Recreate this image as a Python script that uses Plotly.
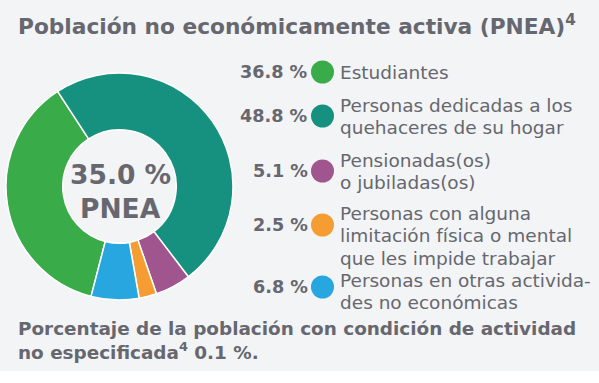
import plotly.graph_objects as go

# ---- data ----
categories = [
    "Estudiantes",
    "Personas dedicadas a los<br>quehaceres de su hogar",
    "Pensionadas(os)<br>o jubiladas(os)",
    "Personas con alguna<br>limitación física o mental<br>que les impide trabajar",
    "Personas en otras activida-<br>des no económicas",
]
values = [36.8, 48.8, 5.1, 2.5, 6.8]
value_labels = ["36.8 %", "48.8 %", "5.1 %", "2.5 %", "6.8 %"]
colors = ["#39ab49", "#17917f", "#a1558f", "#f59d33", "#27a6df"]
center_lines = ["35.0 %", "PNEA"]
title_text = "Población no económicamente activa (PNEA)<sup>4</sup>"
footnote_lines = ["Porcentaje de la población con condición de actividad",
                  "no especificada<sup>4</sup> 0.1 %."]

# ---- layout helpers ----
W, H = 599, 383
TXT = "#66676f"
BG = "#f3f4f6"
FONT = "DejaVu Sans"
row_y = [72, 116, 171, 225, 287]          # dot / value centres (px from top)
label_first = [72, 105, 160, 213, 280]    # centre of first label line
LINE = 22.5

fig = go.Figure()

fig.add_trace(go.Pie(
    values=values,
    labels=[c.replace("<br>", " ") for c in categories],
    marker=dict(colors=colors, line=dict(color="white", width=1.5)),
    hole=0.5,
    sort=False,
    direction="clockwise",
    rotation=194.5,
    textinfo="none",
    hoverinfo="label+value",
    showlegend=False,
    domain=dict(x=[6 / W, 233 / W], y=[(H - 300) / H, (H - 73) / H]),
))

# legend dots
fig.add_trace(go.Scatter(
    x=[322.5] * len(values), y=row_y, mode="markers",
    marker=dict(size=23, color=colors),
    hoverinfo="skip", showlegend=False,
))

ann = []
cx = (6 + 233) / 2 + 1
for j, t in enumerate(center_lines):
    ann.append(dict(x=cx, y=174 + 34 * j, xref="x", yref="y", text=t,
                    showarrow=False, xanchor="center", yanchor="middle",
                    font=dict(family=FONT, size=26.5, color=TXT, weight="bold")))
ann.append(dict(x=W / 2 - 3, y=25, xref="x", yref="y", text=title_text,
                showarrow=False, xanchor="center", yanchor="middle",
                font=dict(family=FONT, size=21.7, color=TXT, weight="bold")))
for i in range(len(values)):
    ann.append(dict(x=310, y=row_y[i], xref="x", yref="y", text=value_labels[i],
                    showarrow=False, xanchor="right", yanchor="middle",
                    font=dict(family=FONT, size=17.6, color=TXT, weight="bold")))
    for j, line in enumerate(categories[i].split("<br>")):
        ann.append(dict(x=338, y=label_first[i] + LINE * j, xref="x", yref="y",
                        text=line, showarrow=False, xanchor="left",
                        yanchor="middle", align="left",
                        font=dict(family=FONT, size=18.5, color=TXT)))
for j, line in enumerate(footnote_lines):
    ann.append(dict(x=16, y=328 + 23 * j, xref="x", yref="y", text=line,
                    showarrow=False, xanchor="left", yanchor="middle", align="left",
                    font=dict(family=FONT, size=18.4, color=TXT, weight="bold")))

fig.update_layout(
    width=W, height=H,
    margin=dict(l=0, r=0, t=0, b=0),
    paper_bgcolor=BG, plot_bgcolor="rgba(0,0,0,0)",
    xaxis=dict(range=[0, W], visible=False, fixedrange=True),
    yaxis=dict(range=[H, 0], visible=False, fixedrange=True),
    annotations=ann,
    shapes=[dict(type="rect", xref="x", yref="y", x0=0, x1=W, y0=371, y1=H,
                 fillcolor="white", line=dict(width=0), layer="below")],
)

fig.write_html("out.html", config={"displayModeBar": False},
               post_script="document.body.style.margin='0';"
                           "document.body.style.overflow='hidden';")
